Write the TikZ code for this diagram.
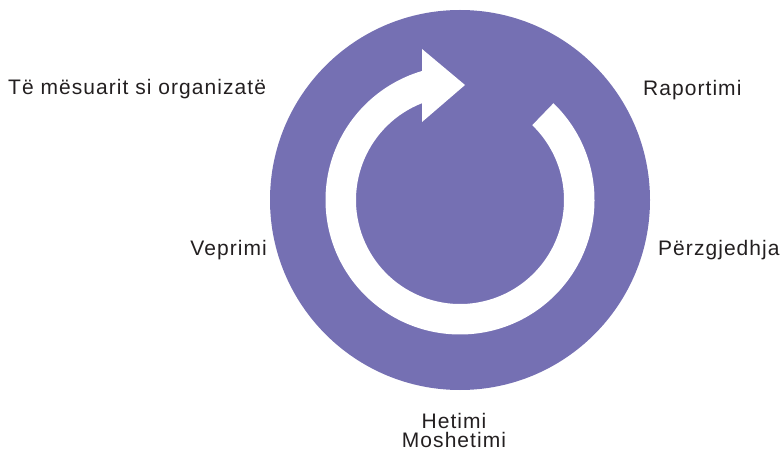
\documentclass[tikz,border=0pt]{standalone}
\usepackage{fontspec}
\setmainfont[LetterSpace=5]{Liberation Sans}
\definecolor{cyclepurple}{RGB}{117,112,179}
\definecolor{labelgray}{RGB}{35,31,32}
\begin{document}
\begin{tikzpicture}[x=1pt,y=1pt,
	steplabel/.style={text=labelgray, inner sep=0pt, font=\fontsize{21}{21}\selectfont}]
	\useasboundingbox (0,0) rectangle (784,453);

	\coordinate (c) at (460,253);

	% disc
	\fill[cyclepurple] (c) circle (190);

	% cycle arrow
	\fill[white] ([shift={(46:134.5)}]c) arc[start angle=46, end angle=-253.6, radius=134.5]
		-- (422,404) -- (465,368) -- (422,331)
		-- ([shift={(-248.6:104)}]c) arc[start angle=-248.6, end angle=46, radius=104] -- cycle;

	% labels
	\node[steplabel, anchor=base west] (learn) at (8,358) {Të mësuarit si organizatë};
	\node[steplabel, anchor=base west] (report) at (643,357) {Raportimi};
	\node[steplabel, anchor=base east] (act) at (267,197) {Veprimi};
	\node[steplabel, anchor=base west] (select) at (658,197) {Përzgjedhja};
	\node[steplabel, anchor=north, align=center] (probe) at (454,40) {Hetimi\\[-2pt]Moshetimi};

\end{tikzpicture}
\end{document}
